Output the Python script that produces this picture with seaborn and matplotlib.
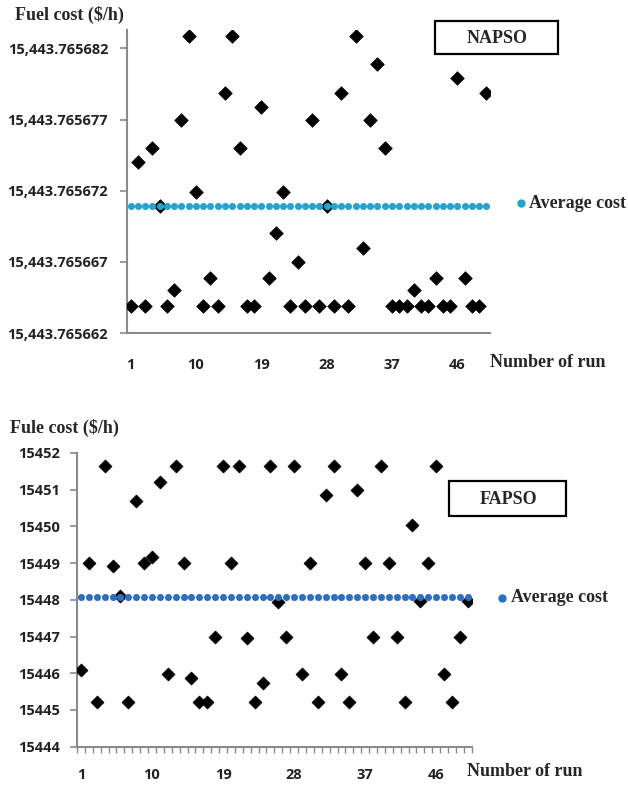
import matplotlib
matplotlib.use("Agg")
import matplotlib.pyplot as plt
import seaborn as sns
import pandas as pd
from matplotlib.lines import Line2D
from matplotlib.patches import Rectangle
from matplotlib.ticker import FuncFormatter, FixedLocator, MultipleLocator

# ---- data ----
runs = list(range(1, 51))

# NAPSO fuel cost ($/h) for each run
napso_cost = [
    15443.7656639, 15443.7656740, 15443.7656639, 15443.7656750, 15443.7656709,
    15443.7656639, 15443.7656650, 15443.7656770, 15443.7656829, 15443.7656719,
    15443.7656639, 15443.7656659, 15443.7656639, 15443.7656789, 15443.7656829,
    15443.7656750, 15443.7656639, 15443.7656639, 15443.7656779, 15443.7656659,
    15443.7656690, 15443.7656719, 15443.7656639, 15443.7656670, 15443.7656639,
    15443.7656770, 15443.7656639, 15443.7656709, 15443.7656639, 15443.7656789,
    15443.7656639, 15443.7656829, 15443.7656680, 15443.7656770, 15443.7656809,
    15443.7656750, 15443.7656639, 15443.7656639, 15443.7656639, 15443.7656650,
    15443.7656639, 15443.7656639, 15443.7656659, 15443.7656639, 15443.7656639,
    15443.7656799, 15443.7656659, 15443.7656639, 15443.7656639, 15443.7656789,
]
napso_avg = 15443.7656709
napso_yticks = [15443.765662, 15443.765667, 15443.765672, 15443.765677, 15443.765682]

# FAPSO fuel cost ($/h) for each run
fapso_cost = [
    15446.10, 15449.00, 15445.22, 15451.65, 15448.91, 15448.10, 15445.22, 15450.70,
    15449.00, 15449.16, 15451.22, 15445.98, 15451.65, 15449.00, 15445.87, 15445.22,
    15445.22, 15447.00, 15451.65, 15449.00, 15451.65, 15446.97, 15445.22, 15445.74,
    15451.65, 15447.95, 15447.00, 15451.65, 15445.98, 15449.00, 15445.22, 15450.85,
    15451.65, 15445.98, 15445.22, 15450.99, 15449.00, 15447.00, 15451.65, 15449.00,
    15447.00, 15445.22, 15450.03, 15447.97, 15449.00, 15451.65, 15445.98, 15445.22,
    15447.00, 15447.97,
]
fapso_avg = 15448.07
fapso_yticks = [15444, 15445, 15446, 15447, 15448, 15449, 15450, 15451, 15452]

xtick_runs = [1, 10, 19, 28, 37, 46]

W, H = 628, 786

sns.set_style("white")
plt.rcParams["font.family"] = ["Liberation Serif", "DejaVu Serif"]

fig = plt.figure(figsize=(W / 100, H / 100), dpi=100)


def fx(px):
    return px / W


def fy(py):
    return 1 - py / H


def bold_ticks(ax):
    for lab in ax.get_xticklabels() + ax.get_yticklabels():
        lab.set_fontfamily("Open Sans")
        lab.set_fontweight("bold")
        lab.set_fontsize(10.5)
        lab.set_color("#222222")


def draw_panel(ax, cost, avg, avg_color, ms_d, ms_o):
    df = pd.DataFrame({"run": runs, "cost": cost})
    df_avg = pd.DataFrame({"run": runs, "cost": [avg] * len(runs)})
    sns.scatterplot(data=df, x="run", y="cost", marker="D", color="black",
                    s=ms_d, edgecolor="black", linewidth=0.5, ax=ax, zorder=3)
    sns.scatterplot(data=df_avg, x="run", y="cost", marker="o", color=avg_color,
                    s=ms_o, edgecolor=avg_color, linewidth=0, ax=ax, zorder=4)
    ax.set_xlabel("")
    ax.set_ylabel("")
    for side in ["top", "right"]:
        ax.spines[side].set_visible(False)
    for side in ["left", "bottom"]:
        ax.spines[side].set_color("#8a8a8a")
        ax.spines[side].set_linewidth(1.5)
    ax.set_xlim(0.5, 50.5)
    ax.xaxis.set_major_locator(FixedLocator(xtick_runs))


# ---- top panel: NAPSO ----
ax1 = fig.add_axes([fx(127), fy(333), fx(490) - fx(127), fy(30) - fy(333)])
draw_panel(ax1, napso_cost, napso_avg, "#27a3c9", 48, 26)
ax1.set_ylim(15443.765662, 15443.7656833)
ax1.yaxis.set_major_locator(FixedLocator(napso_yticks))
ax1.yaxis.set_major_formatter(FuncFormatter(lambda v, p: f"{v:,.6f}"))
ax1.tick_params(axis="y", length=5, width=1.2, color="#8a8a8a", pad=8.5, left=True)
ax1.tick_params(axis="x", length=0, pad=18)
bold_ticks(ax1)

# ---- bottom panel: FAPSO ----
ax2 = fig.add_axes([fx(77), fy(746.7), fx(471.7) - fx(77), fy(453) - fy(746.7)])
draw_panel(ax2, fapso_cost, fapso_avg, "#2e6ec2", 44, 26)
ax2.set_ylim(15444, 15452)
ax2.yaxis.set_major_locator(FixedLocator(fapso_yticks))
ax2.yaxis.set_major_formatter(FuncFormatter(lambda v, p: f"{v:.0f}"))
ax2.xaxis.set_minor_locator(MultipleLocator(1, offset=0.5))
ax2.tick_params(axis="y", length=5, width=1.2, color="#8a8a8a", pad=7, left=True)
ax2.tick_params(axis="x", which="major", length=0, pad=15)
ax2.tick_params(axis="x", which="minor", length=4, width=1, color="#8a8a8a",
                bottom=True)
bold_ticks(ax2)

# ---- texts ----
serif = dict(fontfamily="Liberation Serif", fontweight="bold", fontsize=13)

fig.text(fx(15), fy(15), "Fuel cost ($/h)", ha="left", va="center", **serif)
fig.text(fx(10), fy(428), "Fule cost ($/h)", ha="left", va="center", **serif)
fig.text(fx(490), fy(362), "Number of run", ha="left", va="center", **serif)
fig.text(fx(467), fy(772), "Number of run", ha="left", va="center", **serif)

# method name boxes
for (x0, y0, x1, y1), name in [((435, 21, 558, 54), "NAPSO"),
                               ((449, 481, 566, 516), "FAPSO")]:
    fig.add_artist(Rectangle((fx(x0), fy(y1)), fx(x1) - fx(x0), fy(y0) - fy(y1),
                             transform=fig.transFigure, fc="white", ec="black",
                             lw=1.6))
    fig.text(fx((x0 + x1) / 2 + 1), fy((y0 + y1) / 2 + 1), name,
             ha="center", va="center", **serif)

fig.add_artist(Line2D([fx(521)], [fy(203)], marker="o", markersize=5,
                      color="#27a3c9", linestyle="none", transform=fig.transFigure))
fig.text(fx(529), fy(203), "Average cost", ha="left", va="center", **serif)
fig.add_artist(Line2D([fx(502)], [fy(598)], marker="o", markersize=5,
                      color="#2e6ec2", linestyle="none", transform=fig.transFigure))
fig.text(fx(511), fy(598), "Average cost", ha="left", va="center", **serif)

fig.savefig("out.png", dpi=100)
